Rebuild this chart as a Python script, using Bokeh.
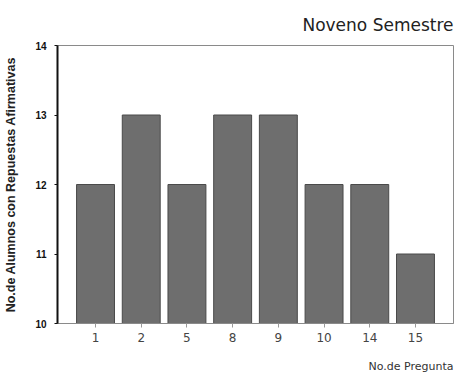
from bokeh.plotting import figure
from bokeh.models import Range1d, FactorRange, FixedTicker, Title
from bokeh.embed import file_html
from bokeh.resources import INLINE

# Question numbers and count of students answering affirmatively
preguntas = ["1", "2", "5", "8", "9", "10", "14", "15"]
alumnos = [12, 13, 12, 13, 13, 12, 12, 11]
y_ticks = [10, 11, 12, 13, 14]

FONT = "Liberation Sans"
WIDE = "DejaVu Sans"

p = figure(
    width=457, height=389,
    x_range=FactorRange(factors=preguntas, range_padding=0.083,
                        range_padding_units="percent"),
    y_range=Range1d(10, 14),
    output_backend="svg", toolbar_location=None,
    min_border_left=57, min_border_right=4,
    min_border_top=45, min_border_bottom=66,
)

p.vbar(x=preguntas, top=alumnos, bottom=10, width=0.83,
       fill_color="#6e6e6e", line_color="#4a4a4a", line_width=1)

# chart title, right aligned above the frame
p.title.text = "Noveno Semestre"
p.title.align = "right"
p.title.text_font = WIDE
p.title.text_font_size = "17px"
p.title.text_font_style = "normal"
p.title.text_color = "#222222"
p.title.standoff = 22

# x caption, right aligned under the axis
p.add_layout(Title(text="No.de Pregunta", align="right", text_font=WIDE,
                   text_font_size="11px", text_font_style="normal",
                   text_color="#333333", standoff=30,
                   vertical_align="top"), "below")

p.xgrid.visible = False
p.ygrid.visible = False
p.outline_line_color = "#8a8a8a"
p.outline_line_width = 1

# y axis
p.yaxis.ticker = FixedTicker(ticks=y_ticks)
p.yaxis.axis_label = "No.de Alumnos con Repuestas Afirmativas"
p.yaxis.axis_label_text_font = FONT
p.yaxis.axis_label_text_font_size = "12.5px"
p.yaxis.axis_label_text_font_style = "bold"
p.yaxis.axis_label_text_color = "#222222"
p.yaxis.axis_label_standoff = 14
p.yaxis.axis_line_color = "#111111"
p.yaxis.axis_line_width = 2
p.yaxis.major_tick_in = 0
p.yaxis.major_tick_out = 3
p.yaxis.major_tick_line_color = "#111111"
p.yaxis.minor_tick_line_color = None
p.yaxis.major_label_text_font = FONT
p.yaxis.major_label_text_font_size = "10px"
p.yaxis.major_label_text_font_style = "bold"
p.yaxis.major_label_text_color = "#111111"
p.yaxis.major_label_standoff = 8

# x axis
p.xaxis.axis_line_color = "#8a8a8a"
p.xaxis.axis_line_width = 1
p.xaxis.major_tick_in = 0
p.xaxis.major_tick_out = 4
p.xaxis.major_tick_line_color = "#999999"
p.xaxis.major_label_text_font = WIDE
p.xaxis.major_label_text_font_size = "12px"
p.xaxis.major_label_text_color = "#444444"
p.xaxis.major_label_standoff = 5

open("out.html", "w").write(file_html(p, INLINE))
